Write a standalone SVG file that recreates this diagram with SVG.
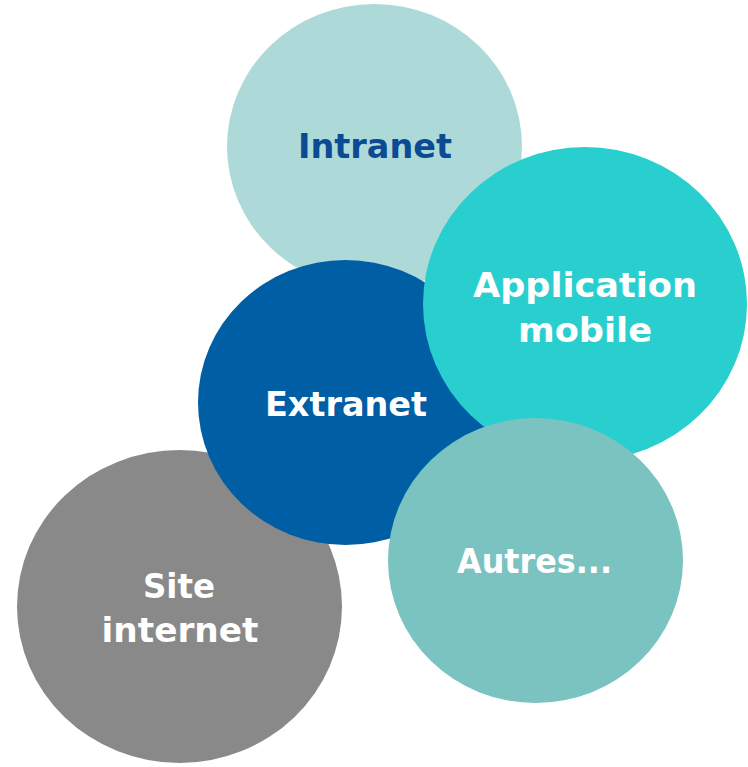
<svg xmlns="http://www.w3.org/2000/svg" width="748" height="767" viewBox="0 0 748 767">
<style>
text{font-family:"DejaVu Sans","Liberation Sans",sans-serif;font-weight:bold;font-size:34px;text-anchor:middle}
.w{fill:#ffffff}
.b{fill:#0A4B94}
</style>
<rect width="748" height="767" fill="#ffffff"/>
<g id="intranet">
<ellipse cx="374.5" cy="146.5" rx="147.5" ry="142.5" fill="#ADDAD9"/>
<text class="b" x="375" y="158" textLength="154" lengthAdjust="spacingAndGlyphs">Intranet</text>
</g>
<g id="site-internet">
<ellipse cx="179.5" cy="606.5" rx="162.5" ry="156.5" fill="#898989"/>
<text class="w" x="179" y="597.5" textLength="72" lengthAdjust="spacingAndGlyphs">Site</text>
<text class="w" x="180" y="641.5" textLength="157" lengthAdjust="spacingAndGlyphs">internet</text>
</g>
<g id="extranet">
<ellipse cx="345.5" cy="402.5" rx="147.5" ry="142.5" fill="#005EA5"/>
<text class="w" x="346" y="415.5" textLength="162" lengthAdjust="spacingAndGlyphs">Extranet</text>
</g>
<g id="application-mobile">
<ellipse cx="585" cy="304" rx="162" ry="157" fill="#29CFCF"/>
<text class="w" x="585" y="297" textLength="224" lengthAdjust="spacingAndGlyphs">Application</text>
<text class="w" x="585" y="342" textLength="134" lengthAdjust="spacingAndGlyphs">mobile</text>
</g>
<g id="autres">
<ellipse cx="535.5" cy="560.5" rx="147.5" ry="142.5" fill="#7AC3C1"/>
<text class="w" x="534.5" y="572.5" textLength="155" lengthAdjust="spacingAndGlyphs">Autres...</text>
</g>
<g id="connectors"/>
</svg>
